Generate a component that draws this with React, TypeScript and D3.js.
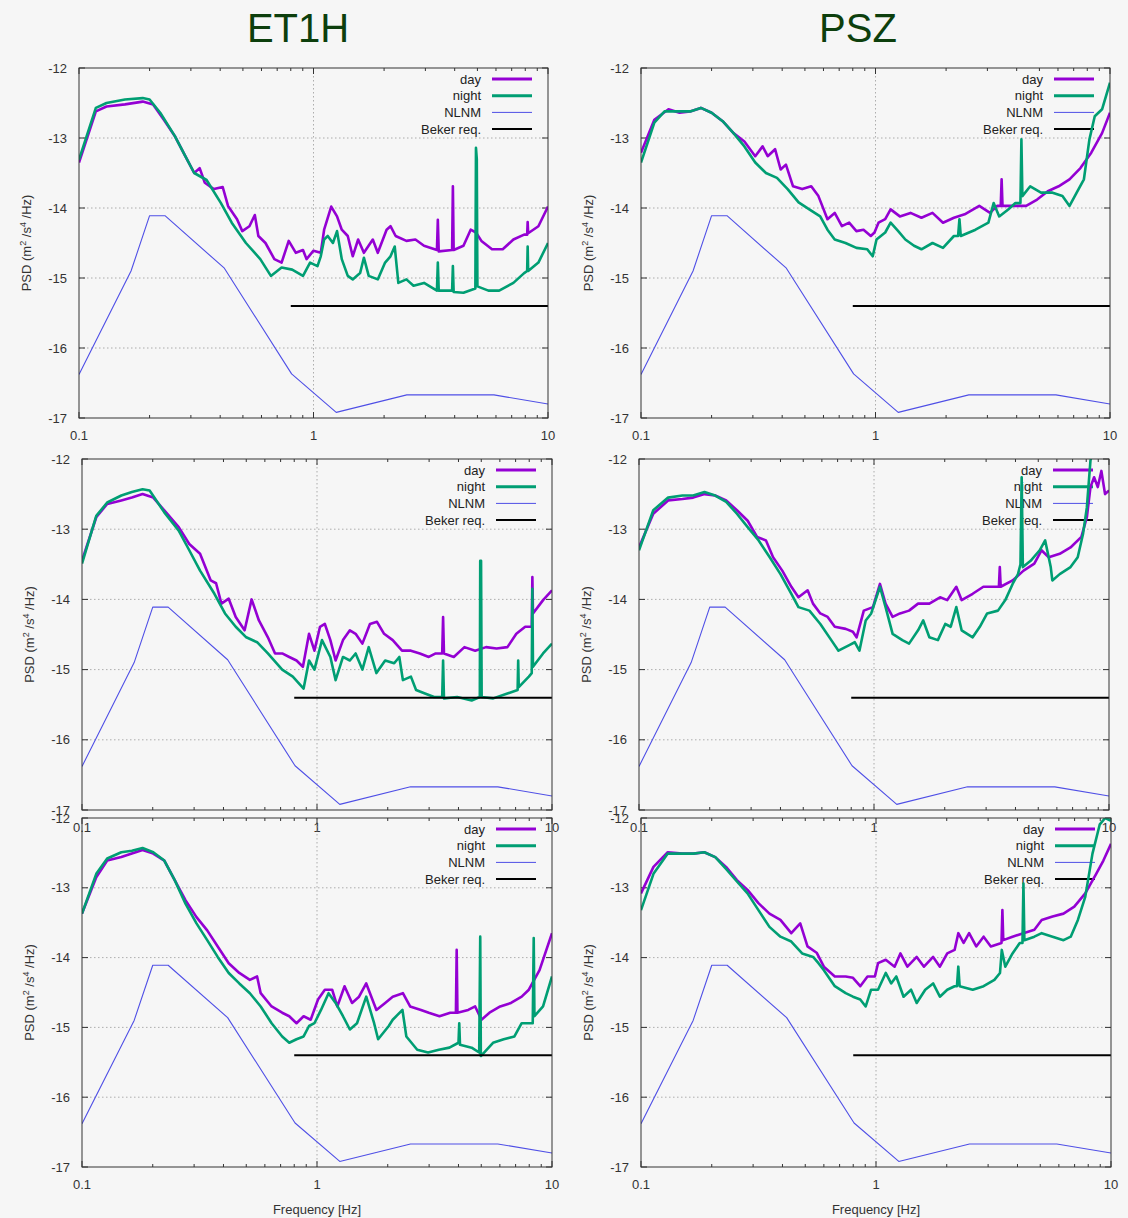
import React from 'react';
import * as d3 from 'd3';

type Pt = [number, number];

// axis / legend text
const columnTitles = ['ET1H', 'PSZ'];
const yTickValues = [-12, -13, -14, -15, -16, -17];
const xMajorTicks = [0.1, 1, 10];
const xTickLabels = ['0.1', '1', '10'];
const xMinorTicks = [0.2, 0.3, 0.4, 0.5, 0.6, 0.7, 0.8, 0.9, 2, 3, 4, 5, 6, 7, 8, 9];
const legendLabels = ['day', 'night', 'NLNM', 'Beker req.'];

// reference curves (log10 PSD vs frequency in Hz)
const nlnm: Pt[] = [
  [0.1, -16.38], [0.1667, -14.9], [0.2, -14.11], [0.2326, -14.11], [0.4167, -14.86],
  [0.8065, -16.37], [1.25, -16.92], [2.5, -16.67], [5.88, -16.67], [10, -16.8],
];
const beker: Pt[] = [[0.8, -15.4], [10, -15.4]];

// ET1H, top row
const et1hTopDay: Pt[] = [
  [0.1, -13.35], [0.118, -12.62], [0.131, -12.55], [0.157, -12.52], [0.187, -12.48], [0.207, -12.52],
  [0.23, -12.74], [0.256, -12.97], [0.284, -13.26], [0.31, -13.5], [0.327, -13.43], [0.344, -13.64],
  [0.376, -13.73], [0.41, -13.7], [0.432, -13.97], [0.472, -14.16], [0.497, -14.33], [0.533, -14.26],
  [0.562, -14.1], [0.582, -14.4], [0.624, -14.5], [0.681, -14.73], [0.731, -14.78], [0.784, -14.47],
  [0.841, -14.64], [0.902, -14.6], [0.934, -14.73], [1.0, -14.61], [1.074, -14.64], [1.11, -14.31],
  [1.19, -13.98], [1.26, -14.12], [1.32, -14.31], [1.4, -14.4], [1.47, -14.69], [1.55, -14.45],
  [1.64, -14.64], [1.79, -14.45], [1.88, -14.64], [2.05, -14.31], [2.13, -14.26], [2.24, -14.4],
  [2.49, -14.47], [2.72, -14.45], [2.96, -14.54], [3.36, -14.6], [3.39, -14.17], [3.42, -14.62],
  [3.9, -14.6], [3.93, -13.69], [3.96, -14.6], [4.36, -14.54], [4.68, -14.31], [4.93, -14.35],
  [5.2, -14.47], [5.77, -14.59], [6.41, -14.59], [7.12, -14.45], [7.91, -14.38], [8.15, -14.38],
  [8.19, -14.2], [8.23, -14.36], [9.1, -14.26], [10, -13.98],
];
const et1hTopNight: Pt[] = [
  [0.1, -13.31], [0.118, -12.57], [0.131, -12.5], [0.157, -12.45], [0.187, -12.43], [0.2, -12.45],
  [0.222, -12.64], [0.256, -12.97], [0.284, -13.26], [0.31, -13.5], [0.35, -13.6], [0.403, -13.93],
  [0.448, -14.21], [0.515, -14.5], [0.593, -14.73], [0.658, -14.97], [0.731, -14.85], [0.811, -14.88],
  [0.902, -14.97], [0.967, -14.78], [1.04, -14.83], [1.074, -14.69], [1.11, -14.45], [1.15, -14.4],
  [1.21, -14.5], [1.26, -14.33], [1.32, -14.73], [1.4, -14.97], [1.47, -15.02], [1.58, -14.93],
  [1.64, -14.71], [1.72, -14.97], [1.88, -15.02], [2.02, -14.78], [2.13, -14.69], [2.22, -14.55],
  [2.3, -15.07], [2.49, -15.02], [2.67, -15.11], [2.96, -15.07], [3.36, -15.18], [3.39, -14.78],
  [3.42, -15.18], [3.9, -15.18], [3.93, -14.83], [3.96, -15.2], [4.36, -15.21], [4.9, -15.15],
  [4.93, -13.14], [4.97, -13.3], [5.0, -15.12], [5.57, -15.18], [6.19, -15.18], [7.12, -15.07],
  [7.91, -14.93], [8.15, -14.9], [8.19, -14.55], [8.23, -14.9], [9.1, -14.78], [10, -14.5],
];

// PSZ, top row
const pszTopDay: Pt[] = [
  [0.1, -13.21], [0.114, -12.74], [0.131, -12.59], [0.146, -12.64], [0.162, -12.62], [0.18, -12.57],
  [0.2, -12.64], [0.223, -12.76], [0.248, -12.93], [0.276, -13.05], [0.307, -13.26], [0.33, -13.12],
  [0.347, -13.26], [0.373, -13.16], [0.394, -13.45], [0.415, -13.38], [0.445, -13.69], [0.487, -13.73],
  [0.532, -13.69], [0.571, -13.83], [0.624, -14.16], [0.67, -14.07], [0.719, -14.26], [0.772, -14.21],
  [0.829, -14.33], [0.889, -14.31], [0.955, -14.4], [0.99, -14.35], [1.03, -14.21], [1.1, -14.16],
  [1.16, -14.02], [1.27, -14.12], [1.41, -14.07], [1.57, -14.14], [1.75, -14.07], [1.94, -14.21],
  [2.16, -14.14], [2.4, -14.09], [2.77, -13.97], [3.08, -14.07], [3.3, -13.97], [3.42, -13.97],
  [3.45, -13.59], [3.48, -13.97], [3.95, -13.97], [4.39, -13.97], [4.89, -13.88], [5.43, -13.76],
  [6.04, -13.69], [6.72, -13.59], [7.48, -13.43], [8.32, -13.21], [9.25, -12.93], [10, -12.64],
];
const pszTopNight: Pt[] = [
  [0.1, -13.35], [0.114, -12.78], [0.126, -12.62], [0.146, -12.62], [0.162, -12.62], [0.18, -12.57],
  [0.2, -12.64], [0.223, -12.76], [0.248, -12.93], [0.276, -13.12], [0.307, -13.35], [0.341, -13.5],
  [0.38, -13.57], [0.422, -13.73], [0.47, -13.92], [0.522, -14.02], [0.581, -14.12], [0.624, -14.31],
  [0.67, -14.45], [0.745, -14.5], [0.829, -14.57], [0.922, -14.59], [0.973, -14.69], [1.01, -14.45],
  [1.1, -14.35], [1.16, -14.21], [1.25, -14.33], [1.34, -14.45], [1.46, -14.54], [1.57, -14.59],
  [1.75, -14.5], [1.94, -14.57], [2.16, -14.4], [2.25, -14.4], [2.28, -14.16], [2.31, -14.4],
  [2.67, -14.31], [3.03, -14.21], [3.19, -13.93], [3.37, -14.12], [3.68, -14.02], [3.95, -13.93],
  [4.15, -13.93], [4.19, -13.02], [4.23, -13.83], [4.57, -13.69], [5.08, -13.78], [5.65, -13.78],
  [6.27, -13.83], [6.72, -13.97], [7.21, -13.78], [7.74, -13.59], [8.17, -13.02], [8.61, -12.69],
  [9.25, -12.59], [10, -12.21],
];

// ET1H, middle row
const et1hMidDay: Pt[] = [
  [0.1, -13.45], [0.115, -12.83], [0.128, -12.64], [0.147, -12.59], [0.163, -12.55], [0.181, -12.5],
  [0.201, -12.55], [0.224, -12.73], [0.258, -12.97], [0.286, -13.21], [0.318, -13.35], [0.353, -13.73],
  [0.372, -13.77], [0.392, -14.06], [0.421, -13.99], [0.451, -14.25], [0.492, -14.44], [0.527, -14.0],
  [0.566, -14.3], [0.618, -14.54], [0.663, -14.77], [0.711, -14.77], [0.762, -14.82], [0.818, -14.87],
  [0.871, -14.96], [0.925, -14.49], [0.975, -14.73], [1.03, -14.39], [1.08, -14.35], [1.14, -14.58],
  [1.2, -14.87], [1.29, -14.58], [1.38, -14.44], [1.46, -14.49], [1.56, -14.63], [1.68, -14.35],
  [1.8, -14.32], [1.93, -14.49], [2.1, -14.58], [2.3, -14.73], [2.51, -14.73], [2.74, -14.77],
  [2.99, -14.82], [3.2, -14.77], [3.41, -14.77], [3.44, -14.25], [3.47, -14.77], [3.82, -14.82],
  [4.24, -14.68], [4.71, -14.73], [5.24, -14.68], [5.81, -14.7], [6.46, -14.68], [7.05, -14.49],
  [7.69, -14.39], [8.2, -14.39], [8.25, -13.68], [8.3, -14.2], [9.16, -14.01], [10, -13.87],
];
const et1hMidNight: Pt[] = [
  [0.1, -13.49], [0.115, -12.81], [0.128, -12.62], [0.147, -12.52], [0.163, -12.47], [0.181, -12.43],
  [0.194, -12.45], [0.224, -12.76], [0.258, -13.02], [0.286, -13.3], [0.318, -13.59], [0.366, -13.92],
  [0.406, -14.2], [0.451, -14.39], [0.5, -14.54], [0.556, -14.61], [0.618, -14.77], [0.711, -15.0],
  [0.789, -15.1], [0.877, -15.27], [0.925, -14.87], [0.975, -15.0], [1.05, -14.58], [1.14, -14.82],
  [1.2, -15.15], [1.29, -14.82], [1.38, -14.87], [1.46, -14.77], [1.56, -15.0], [1.66, -14.68],
  [1.79, -15.05], [1.95, -14.87], [2.13, -14.91], [2.24, -14.82], [2.32, -15.15], [2.51, -15.1],
  [2.64, -15.29], [2.88, -15.34], [3.15, -15.39], [3.41, -15.39], [3.44, -14.87], [3.47, -15.41],
  [3.95, -15.39], [4.55, -15.44], [4.93, -15.39], [4.95, -13.45], [4.99, -13.45], [5.02, -15.39],
  [5.62, -15.41], [6.46, -15.34], [7.14, -15.29], [7.18, -14.87], [7.22, -15.25], [7.97, -15.1],
  [8.2, -15.05], [8.25, -13.85], [8.3, -14.96], [9.16, -14.77], [10, -14.63],
];

// PSZ, middle row
const pszMidDay: Pt[] = [
  [0.1, -13.26], [0.115, -12.78], [0.133, -12.59], [0.153, -12.57], [0.17, -12.55], [0.19, -12.5],
  [0.211, -12.52], [0.235, -12.59], [0.261, -12.73], [0.29, -12.88], [0.318, -13.11], [0.347, -13.16],
  [0.372, -13.4], [0.407, -13.59], [0.445, -13.82], [0.477, -13.97], [0.522, -13.87], [0.55, -14.06],
  [0.591, -14.2], [0.635, -14.25], [0.681, -14.39], [0.758, -14.42], [0.813, -14.46], [0.843, -14.54],
  [0.905, -14.16], [0.99, -14.11], [1.06, -13.78], [1.12, -14.06], [1.2, -14.25], [1.29, -14.2],
  [1.41, -14.16], [1.54, -14.06], [1.72, -14.06], [1.91, -13.97], [2.05, -14.01], [2.24, -13.82],
  [2.36, -14.01], [2.63, -13.92], [2.92, -13.82], [3.25, -13.82], [3.4, -13.82], [3.43, -13.54],
  [3.46, -13.82], [3.89, -13.73], [4.33, -13.59], [4.81, -13.49], [5.16, -13.3], [5.54, -13.4],
  [6.17, -13.35], [6.86, -13.26], [7.63, -13.11], [8.05, -12.83], [8.34, -12.4], [8.64, -12.26],
  [8.96, -12.4], [9.28, -12.17], [9.62, -12.5], [10, -12.45],
];
const pszMidNight: Pt[] = [
  [0.1, -13.3], [0.115, -12.73], [0.133, -12.55], [0.153, -12.52], [0.17, -12.52], [0.19, -12.47],
  [0.211, -12.52], [0.235, -12.61], [0.261, -12.78], [0.29, -12.97], [0.323, -13.16], [0.36, -13.4],
  [0.4, -13.64], [0.445, -13.92], [0.477, -14.11], [0.531, -14.16], [0.591, -14.35], [0.658, -14.58],
  [0.706, -14.73], [0.785, -14.65], [0.828, -14.61], [0.867, -14.73], [0.922, -14.3], [0.973, -14.2],
  [1.06, -13.82], [1.12, -14.11], [1.2, -14.49], [1.32, -14.58], [1.41, -14.63], [1.54, -14.44],
  [1.62, -14.3], [1.72, -14.54], [1.87, -14.58], [2.01, -14.35], [2.12, -14.39], [2.24, -14.11],
  [2.36, -14.44], [2.63, -14.54], [2.82, -14.39], [3.03, -14.2], [3.37, -14.16], [3.62, -14.01],
  [3.89, -13.78], [4.1, -13.64], [4.2, -13.5], [4.25, -12.26], [4.3, -13.54], [4.64, -13.45],
  [5.07, -13.3], [5.35, -13.16], [5.65, -13.54], [5.74, -13.73], [6.17, -13.64], [6.86, -13.54],
  [7.36, -13.4], [7.76, -13.06], [8.05, -12.69], [8.34, -12.02], [8.7, -11.8],
];

// ET1H, bottom row
const et1hBotDay: Pt[] = [
  [0.1, -13.37], [0.115, -12.85], [0.128, -12.61], [0.147, -12.56], [0.163, -12.51], [0.181, -12.46],
  [0.201, -12.51], [0.224, -12.61], [0.248, -12.89], [0.276, -13.18], [0.307, -13.42], [0.341, -13.61],
  [0.378, -13.84], [0.421, -14.08], [0.467, -14.22], [0.518, -14.32], [0.556, -14.27], [0.576, -14.51],
  [0.641, -14.7], [0.711, -14.79], [0.762, -14.84], [0.818, -14.94], [0.877, -14.84], [0.94, -14.89],
  [1.01, -14.6], [1.08, -14.46], [1.16, -14.46], [1.22, -14.7], [1.31, -14.41], [1.41, -14.65],
  [1.51, -14.56], [1.62, -14.37], [1.79, -14.75], [1.95, -14.65], [2.1, -14.56], [2.32, -14.51],
  [2.49, -14.7], [2.77, -14.75], [2.99, -14.79], [3.32, -14.84], [3.69, -14.79], [3.9, -14.79],
  [3.93, -13.89], [3.96, -14.79], [4.4, -14.75], [4.71, -14.7], [5.01, -14.89], [5.42, -14.79],
  [6.02, -14.7], [6.69, -14.65], [7.43, -14.56], [7.97, -14.46], [8.85, -14.18], [10, -13.65],
];
const et1hBotNight: Pt[] = [
  [0.1, -13.37], [0.115, -12.8], [0.128, -12.58], [0.147, -12.49], [0.163, -12.47], [0.181, -12.43],
  [0.201, -12.49], [0.224, -12.61], [0.248, -12.89], [0.276, -13.23], [0.307, -13.51], [0.341, -13.75],
  [0.378, -13.99], [0.421, -14.22], [0.467, -14.37], [0.518, -14.51], [0.576, -14.7], [0.641, -14.94],
  [0.711, -15.13], [0.762, -15.22], [0.818, -15.17], [0.877, -15.13], [0.925, -14.98], [0.975, -14.94],
  [1.04, -14.75], [1.12, -14.51], [1.2, -14.65], [1.29, -14.84], [1.38, -15.03], [1.48, -14.94],
  [1.62, -14.56], [1.75, -14.94], [1.82, -15.17], [2.02, -14.98], [2.1, -14.89], [2.31, -14.75],
  [2.4, -15.13], [2.67, -15.32], [2.97, -15.36], [3.3, -15.32], [3.66, -15.29], [4.0, -15.22],
  [4.03, -14.94], [4.06, -15.25], [4.55, -15.29], [4.9, -15.36], [4.95, -13.7], [4.98, -15.41],
  [5.61, -15.22], [6.23, -15.17], [6.92, -15.13], [7.43, -14.94], [8.28, -14.94], [8.36, -13.72],
  [8.42, -14.84], [9.16, -14.7], [10, -14.27],
];

// PSZ, bottom row
const pszBotDay: Pt[] = [
  [0.1, -13.08], [0.113, -12.7], [0.13, -12.49], [0.15, -12.51], [0.167, -12.51], [0.186, -12.49],
  [0.207, -12.56], [0.23, -12.7], [0.256, -12.89], [0.284, -13.03], [0.316, -13.22], [0.352, -13.37],
  [0.392, -13.46], [0.436, -13.65], [0.476, -13.51], [0.511, -13.84], [0.559, -13.93], [0.6, -14.13],
  [0.668, -14.27], [0.743, -14.27], [0.798, -14.29], [0.857, -14.41], [0.92, -14.27], [0.989, -14.27],
  [1.02, -14.08], [1.1, -14.03], [1.2, -14.13], [1.27, -13.94], [1.36, -14.13], [1.49, -13.99],
  [1.6, -14.13], [1.75, -13.99], [1.87, -14.13], [2.01, -13.94], [2.16, -13.89], [2.24, -13.65],
  [2.36, -13.79], [2.49, -13.65], [2.67, -13.84], [2.87, -13.7], [3.08, -13.84], [3.42, -13.79],
  [3.45, -13.32], [3.48, -13.75], [3.81, -13.7], [4.24, -13.65], [4.72, -13.6], [5.07, -13.46],
  [5.64, -13.41], [6.28, -13.37], [6.98, -13.27], [7.77, -13.08], [8.65, -12.8], [9.28, -12.61],
  [10, -12.37],
];
const pszBotNight: Pt[] = [
  [0.1, -13.32], [0.113, -12.8], [0.13, -12.51], [0.15, -12.51], [0.167, -12.51], [0.186, -12.49],
  [0.207, -12.56], [0.23, -12.73], [0.256, -12.91], [0.284, -13.08], [0.316, -13.32], [0.352, -13.56],
  [0.392, -13.7], [0.436, -13.77], [0.485, -13.94], [0.54, -13.99], [0.569, -14.08], [0.6, -14.18],
  [0.668, -14.41], [0.743, -14.51], [0.798, -14.56], [0.857, -14.6], [0.904, -14.7], [0.953, -14.46],
  [1.02, -14.46], [1.1, -14.22], [1.16, -14.37], [1.22, -14.27], [1.31, -14.56], [1.41, -14.46],
  [1.49, -14.65], [1.62, -14.46], [1.75, -14.37], [1.87, -14.56], [2.01, -14.46], [2.16, -14.41],
  [2.21, -14.41], [2.24, -14.13], [2.27, -14.41], [2.58, -14.46], [2.87, -14.41], [3.19, -14.32],
  [3.37, -14.22], [3.43, -13.89], [3.55, -14.13], [3.81, -13.94], [4.09, -13.79], [4.2, -13.79],
  [4.24, -12.94], [4.28, -13.75], [4.72, -13.7], [5.07, -13.65], [5.64, -13.7], [6.28, -13.75],
  [6.74, -13.7], [7.23, -13.46], [7.77, -13.13], [8.34, -12.51], [8.96, -12.09], [9.45, -12.0],
  [10, -12.04],
];

const FONT = "'Liberation Sans', Arial, Helvetica, sans-serif";
const DAY = '#9400d3';
const NIGHT = '#009e73';
const NLNM_C = '#4f4fe6';
const BEKER = '#000000';

// plot boxes: [left, right, top, bottom] in px
const panels = [
  { id: 'p1', box: [79, 548, 68, 418], day: et1hTopDay, night: et1hTopNight, xTitle: false },
  { id: 'p2', box: [641, 1110, 68, 418], day: pszTopDay, night: pszTopNight, xTitle: false },
  { id: 'p3', box: [82, 552, 459, 810], day: et1hMidDay, night: et1hMidNight, xTitle: false },
  { id: 'p4', box: [639, 1109, 459, 810], day: pszMidDay, night: pszMidNight, xTitle: false },
  { id: 'p5', box: [82, 552, 818, 1167], day: et1hBotDay, night: et1hBotNight, xTitle: true },
  { id: 'p6', box: [641, 1111, 818, 1167], day: pszBotDay, night: pszBotNight, xTitle: true },
];

const Panel = ({ id, box, day, night, xTitle }: any) => {
  const [x0, x1, yT, yB] = box;
  const x = d3.scaleLog().domain([0.1, 10]).range([x0, x1]);
  const y = d3.scaleLinear().domain([-17, -12]).range([yB, yT]);
  const line = d3.line<Pt>().x(d => x(d[0])).y(d => y(d[1]));
  const legendColors = [DAY, NIGHT, NLNM_C, BEKER];
  const legendWidths = [3, 3, 1, 2];

  return (
    <g>
      <defs>
        <clipPath id={`clip-${id}`}>
          <rect x={x0} y={yT} width={x1 - x0} height={yB - yT} />
        </clipPath>
      </defs>

      {/* grid */}
      {yTickValues.filter(v => v !== -12 && v !== -17).map(v => (
        <line key={`gy${v}`} x1={x0} x2={x1} y1={y(v)} y2={y(v)}
          stroke="#9a9a9a" strokeWidth={0.8} strokeDasharray="1.5,2.5" />
      ))}
      <line x1={x(1)} x2={x(1)} y1={yT} y2={yB} stroke="#9a9a9a" strokeWidth={0.8} strokeDasharray="1.5,2.5" />

      {/* ticks */}
      {yTickValues.map(v => (
        <g key={`ty${v}`}>
          <line x1={x0} x2={x0 + 6} y1={y(v)} y2={y(v)} stroke="#333" />
          <line x1={x1 - 6} x2={x1} y1={y(v)} y2={y(v)} stroke="#333" />
          <text x={x0 - 12} y={y(v)} dy="0.35em" textAnchor="end" fontSize={13} fill="#333">{v}</text>
        </g>
      ))}
      {xMajorTicks.map((v, i) => (
        <g key={`tx${v}`}>
          <line x1={x(v)} x2={x(v)} y1={yB} y2={yB - 6} stroke="#333" />
          <line x1={x(v)} x2={x(v)} y1={yT} y2={yT + 6} stroke="#333" />
          <text x={x(v)} y={yB + 22} textAnchor="middle" fontSize={13} fill="#333">{xTickLabels[i]}</text>
        </g>
      ))}
      {xMinorTicks.map(v => (
        <g key={`mx${v}`}>
          <line x1={x(v)} x2={x(v)} y1={yB} y2={yB - 3} stroke="#333" />
          <line x1={x(v)} x2={x(v)} y1={yT} y2={yT + 3} stroke="#333" />
        </g>
      ))}

      {/* legend */}
      {legendLabels.map((lab, i) => {
        const ly = yT + 11 + i * 16.7;
        return (
          <g key={lab}>
            <text x={x1 - 67} y={ly} dy="0.35em" textAnchor="end" fontSize={13} fill="#222">{lab}</text>
            <line x1={x1 - 56} x2={x1 - 16} y1={ly} y2={ly} stroke={legendColors[i]} strokeWidth={legendWidths[i]} />
          </g>
        );
      })}

      {/* curves */}
      <g clipPath={`url(#clip-${id})`} fill="none" strokeLinejoin="round">
        <path d={line(day) || ''} stroke={DAY} strokeWidth={2.6} />
        <path d={line(night) || ''} stroke={NIGHT} strokeWidth={2.6} />
        <path d={line(nlnm) || ''} stroke={NLNM_C} strokeWidth={1.1} />
        <path d={line(beker) || ''} stroke={BEKER} strokeWidth={2} />
      </g>

      <rect x={x0} y={yT} width={x1 - x0} height={yB - yT} fill="none" stroke="#333" strokeWidth={1} />

      {/* y axis title */}
      <text transform={`translate(${x0 - 48},${(yT + yB) / 2}) rotate(-90)`} textAnchor="middle" fontSize={13} fill="#333">
        PSD (m<tspan dy={-5} fontSize={9}>2</tspan><tspan dy={5}> /s</tspan><tspan dy={-5} fontSize={9}>4</tspan><tspan dy={5}> /Hz)</tspan>
      </text>

      {xTitle && (
        <text x={(x0 + x1) / 2} y={yB + 47} textAnchor="middle" fontSize={13} fill="#333">Frequency [Hz]</text>
      )}
    </g>
  );
};

export default function App() {
  return (
    <div style={{ position: 'absolute', left: 0, top: 0 }}>
      <svg width={1128} height={1218} fontFamily={FONT} style={{ display: 'block' }}>
        <rect x={0} y={0} width={1128} height={1218} fill="#f6f6f6" />
        <text x={298} y={42} textAnchor="middle" fontSize={40} fill="#0d3f0d">{columnTitles[0]}</text>
        <text x={858} y={42} textAnchor="middle" fontSize={40} fill="#0d3f0d">{columnTitles[1]}</text>
        {panels.map(p => <Panel key={p.id} {...p} />)}
      </svg>
    </div>
  );
}
